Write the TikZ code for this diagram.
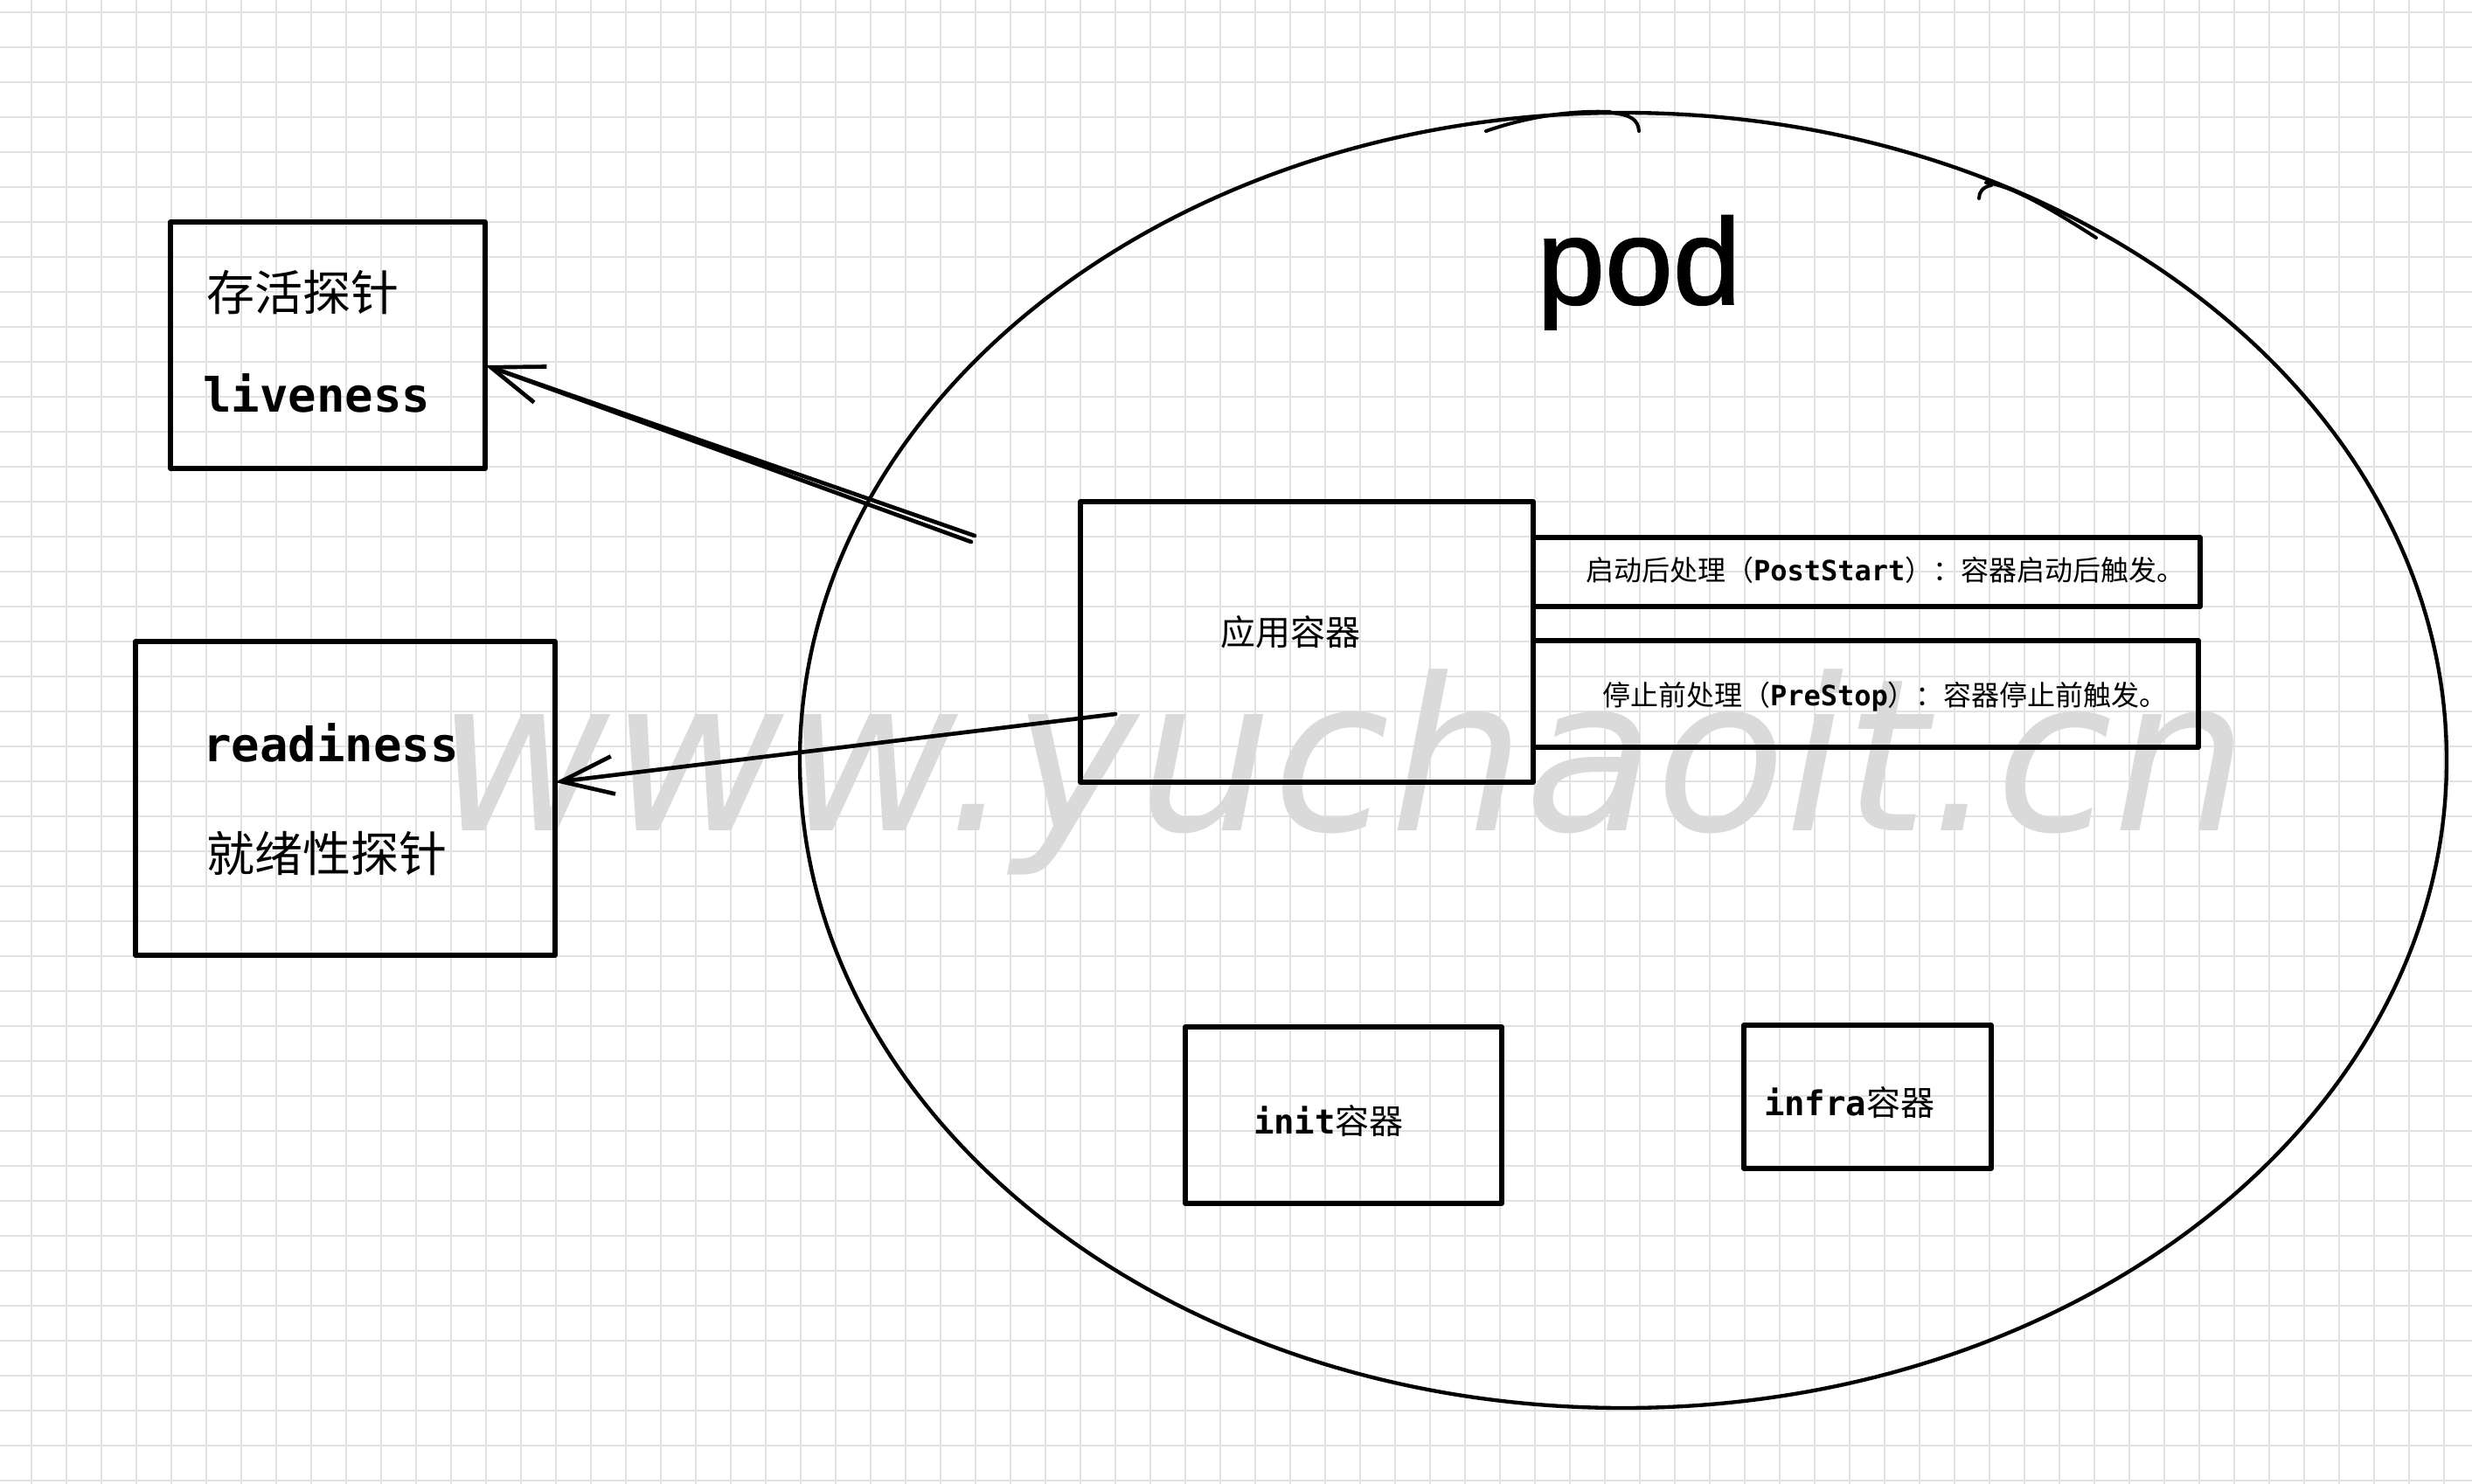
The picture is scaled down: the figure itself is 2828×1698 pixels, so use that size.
\documentclass[tikz,border=0pt]{standalone}
\usepackage{fontspec}
\usetikzlibrary{shapes.geometric,arrows.meta,calc}
\newfontfamily\cjkf{Noto Sans CJK SC}
\newfontfamily\monof{DejaVu Sans Mono}
\newfontfamily\podf{Liberation Sans}[FakeBold=1.2]
\newfontfamily\wmf{DejaVu Sans}
\definecolor{gridc}{HTML}{E2E2E2}
\definecolor{wmc}{HTML}{DADADA}
\begin{document}
\begin{tikzpicture}[x=0.3pt,y=-0.3pt,
  gridline/.style={gridc,line width=0.5pt},
  sbox/.style={draw,rectangle,line width=1.7pt,inner sep=0pt,outer sep=0pt,line join=round},
  lbl/.style={inner sep=0pt,outer sep=0pt},
  conn/.style={line width=1.4pt,line cap=round},
  arr/.style={conn,-{Straight Barb[length=18pt,width=13pt]}},
  sketch/.style={line width=1.2pt,line cap=round}
]
\fill[white] (0,0) rectangle (2828,1698);
\useasboundingbox (0,0) rectangle (2828,1698);
\foreach \i in {0,...,69} \draw[gridline] ({36+40*\i},0) -- ({36+40*\i},1698);
\foreach \j in {0,...,42} \draw[gridline] (0,{14+40*\j}) -- (2828,{14+40*\j});

% watermark
\node[lbl,anchor=base,text=wmc,font=\wmf\itshape\fontsize{73pt}{84pt}\selectfont] (wm) at (1535,950) {www.yuchaoit.cn};

% pod ellipse
\node[draw,ellipse,line width=1.3pt,minimum width=565.2pt,minimum height=444.6pt,inner sep=0pt,outer sep=0pt] (pod) at (1857,870) {};
\draw[sketch] (1842,129) .. controls (1866,131) and (1874,137) .. (1875,150);
\draw[sketch] (1700,150) .. controls (1740,136) and (1790,126) .. (1842,128);
\draw[sketch] (2272,209) .. controls (2300,212) and (2345,238) .. (2398,272);
\draw[sketch] (2278,212) .. controls (2268,214) and (2264,220) .. (2264,227);
\node[lbl,anchor=base,font=\podf\fontsize{42pt}{48pt}\selectfont] (podlbl) at (1875,348) {pod};

% boxes
\node[sbox,minimum width=108pt,minimum height=84.6pt] (live) at (375,395) {};
\node[sbox,minimum width=144pt,minimum height=107.7pt] (ready) at (395,913.5) {};
\node[sbox,minimum width=155.4pt,minimum height=96.3pt] (app) at (1495,734.5) {};
\node[sbox,minimum width=228.9pt,minimum height=23.7pt] (post) at (2135.5,654.5) {};
\node[sbox,minimum width=228.3pt,minimum height=36.6pt] (pre) at (2134.5,794) {};
\node[sbox,minimum width=108.6pt,minimum height=60.6pt] (init) at (1537,1276) {};
\node[sbox,minimum width=84.9pt,minimum height=49.2pt] (infra) at (2136.5,1255) {};

% texts
\node[lbl,anchor=west,font=\cjkf\fontsize{16.5pt}{18pt}\selectfont] (t1) at (236,335) {存活探针};
\node[lbl,anchor=west,font=\monof\bfseries\fontsize{16.2pt}{18pt}\selectfont] (t2) at (232,450) {liveness};
\node[lbl,anchor=west,font=\monof\bfseries\fontsize{16.2pt}{18pt}\selectfont] (t3) at (232,850) {readiness};
\node[lbl,anchor=west,font=\cjkf\fontsize{16.5pt}{18pt}\selectfont] (t4) at (236,977) {就绪性探针};
\node[lbl,font=\cjkf\fontsize{12pt}{14pt}\selectfont] (t5) at (1476,723) {应用容器};
\node[lbl,anchor=west,font=\fontsize{9.6pt}{11pt}\selectfont] (t6) at (1814,652) {{\cjkf 启动后处理（}{\monof\bfseries PostStart}{\cjkf ）：容器启动后触发。}};
\node[lbl,anchor=west,font=\fontsize{9.6pt}{11pt}\selectfont] (t7) at (1833,797) {{\cjkf 停止前处理（}{\monof\bfseries PreStop}{\cjkf ）：容器停止前触发。}};
\node[lbl,anchor=west,font=\fontsize{11.7pt}{13pt}\selectfont] (t8) at (1434,1283) {{\monof\bfseries init}{\cjkf 容器}};
\node[lbl,anchor=west,font=\fontsize{11.7pt}{13pt}\selectfont] (t9) at (2018,1262) {{\monof\bfseries infra}{\cjkf 容器}};

% connectors
\coordinate (ls1) at (1115,613);
\coordinate (ls2) at (1111,620);
\coordinate (rs) at (1276,817);
\draw[arr] (ls1) -- ($(live.east)+(0,23)$);
\draw[conn] (ls2) -- ($(live.east)+(20,30)$);
\draw[arr] (rs) -- ($(ready.east)+(0,-18.5)$);
\end{tikzpicture}
\end{document}
